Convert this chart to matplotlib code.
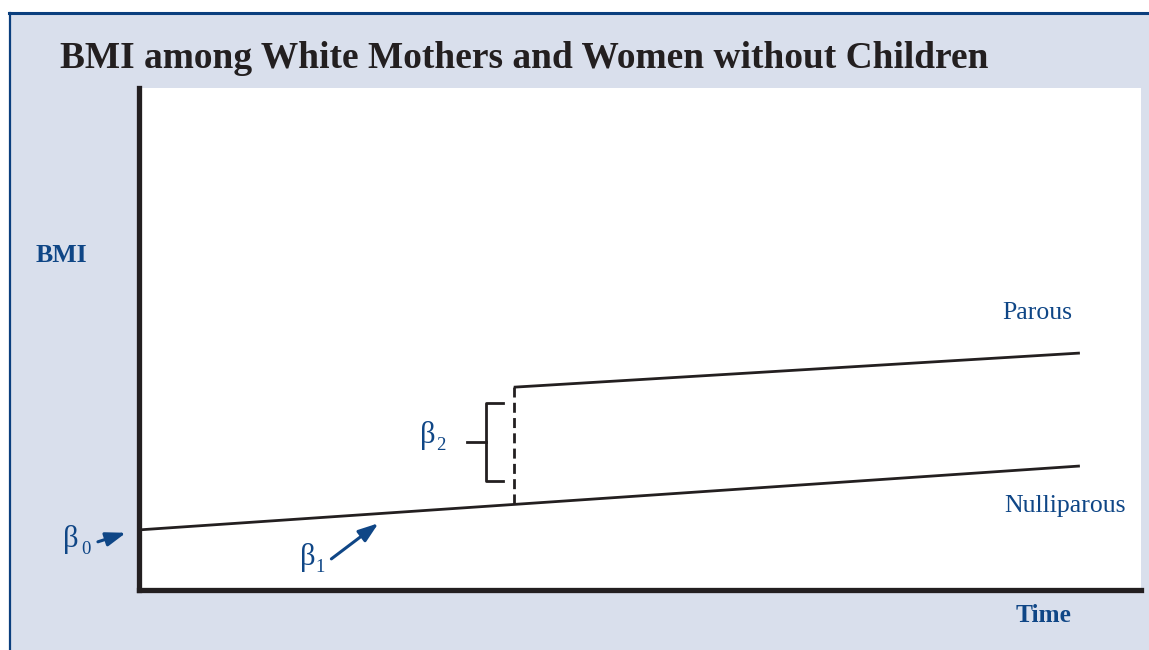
import matplotlib.pyplot as plt
from matplotlib.patches import Rectangle
from matplotlib.lines import Line2D

# Time axis runs 0-100, BMI axis runs 0-100 (schematic units)
nulliparous_time = [0.2, 93.9]
nulliparous_bmi = [12.0, 24.7]
parous_time = [37.4, 93.9]
parous_bmi = [40.4, 47.2]
birth_time = 37.4

# Bracket marking the jump at birth (beta 2)
bracket_x = [36.3, 34.6, 34.6, 36.3]
bracket_y = [37.2, 37.2, 21.7, 21.7]
bracket_mid_x = [32.7, 34.6]
bracket_mid_y = [29.5, 29.5]

TITLE = "BMI among White Mothers and Women without Children"
NAVY = "#0f4686"
DARK = "#231f20"
PANEL = "#d9dfec"
FRAME = "#0b3f7e"

W, H = 1149, 650
fig = plt.figure(figsize=(W / 100, H / 100), dpi=100)
fig.patch.set_facecolor("white")


def px(x, y):
    """Figure fraction from pixel position measured from the top-left corner."""
    return x / W, 1 - y / H


# Shaded panel with dark-blue frame on top and left
fig.patches.append(Rectangle((9 / W, 0), 1 - 9 / W, (H - 13) / H,
                             transform=fig.transFigure, facecolor=PANEL,
                             edgecolor="none", zorder=-2))
fig.add_artist(Line2D([9 / W, 1], [1 - 13 / H, 1 - 13 / H], color=FRAME,
                      lw=2.2, transform=fig.transFigure, zorder=-1))
fig.add_artist(Line2D([10 / W, 10 / W], [0, 1 - 13 / H], color=FRAME,
                      lw=1.6, transform=fig.transFigure, zorder=-1))

left, right, top, bottom = 139, 1141, 88, 590
ax = fig.add_axes([left / W, (H - bottom) / H, (right - left) / W, (bottom - top) / H])
ax.set_zorder(2)
ax.set_facecolor("white")
ax.set_xlim(0, 100)
ax.set_ylim(0, 100)
ax.set_xticks([])
ax.set_yticks([])
for side in ("top", "right"):
    ax.spines[side].set_visible(False)
for side in ("left", "bottom"):
    ax.spines[side].set_linewidth(3.8)
    ax.spines[side].set_color(DARK)

line_kw = dict(color=DARK, lw=2.0, solid_capstyle="butt")
ax.plot(nulliparous_time, nulliparous_bmi, **line_kw, clip_on=False)
ax.plot(parous_time, parous_bmi, **line_kw)
ax.plot([birth_time, birth_time], [parous_bmi[0], 17.1], color=DARK, lw=2.0,
        linestyle=(0, (3.6, 1.9)))
ax.plot(bracket_x, bracket_y, color=DARK, lw=2.0)
ax.plot(bracket_mid_x, bracket_mid_y, color=DARK, lw=2.0)

serif = "Liberation Serif"
ax.text(89.6, 55.2, "Parous", color=NAVY, fontsize=18.5, family=serif,
        ha="center", va="center")
ax.text(92.4, 16.8, "Nulliparous", color=NAVY, fontsize=18.5, family=serif,
        ha="center", va="center")

# Coefficient labels: beta with subscript index
beta_labels = [("0", (71, 539), (86, 549)),
               ("1", (308, 558), (320, 567)),
               ("2", (428, 436), (441, 445))]
for idx, (bx, by), (sx, sy) in beta_labels:
    fig.text(*px(bx, by), "\u03b2", color=NAVY, fontsize=22, family=serif,
             ha="center", va="center", zorder=5)
    fig.text(*px(sx, sy), idx, color=NAVY, fontsize=13.5, family=serif,
             ha="center", va="center", zorder=5)

arrow_kw = dict(arrowstyle="-|>,head_length=1.2,head_width=0.42",
                color=NAVY, lw=2.2, shrinkA=0, shrinkB=0)
ax.annotate("", xy=(-1.3, 11.4), xytext=(-4.1, 9.6), arrowprops=arrow_kw,
            annotation_clip=False)
ax.annotate("", xy=(23.9, 13.3), xytext=(19.2, 6.2), arrowprops=arrow_kw)

# Axis titles and chart title
fig.text(*px(61, 256), "BMI", color=NAVY, fontsize=18.5, family=serif,
         fontweight="bold", ha="center", va="center")
fig.text(*px(1043, 615), "Time", color=NAVY, fontsize=18.3, family=serif,
         fontweight="bold", ha="center", va="center")
fig.text(*px(60, 59), TITLE, color=DARK, fontsize=26.9, family=serif,
         fontweight="bold", ha="left", va="center")

fig.savefig("out.png", dpi=100, facecolor=fig.get_facecolor())
